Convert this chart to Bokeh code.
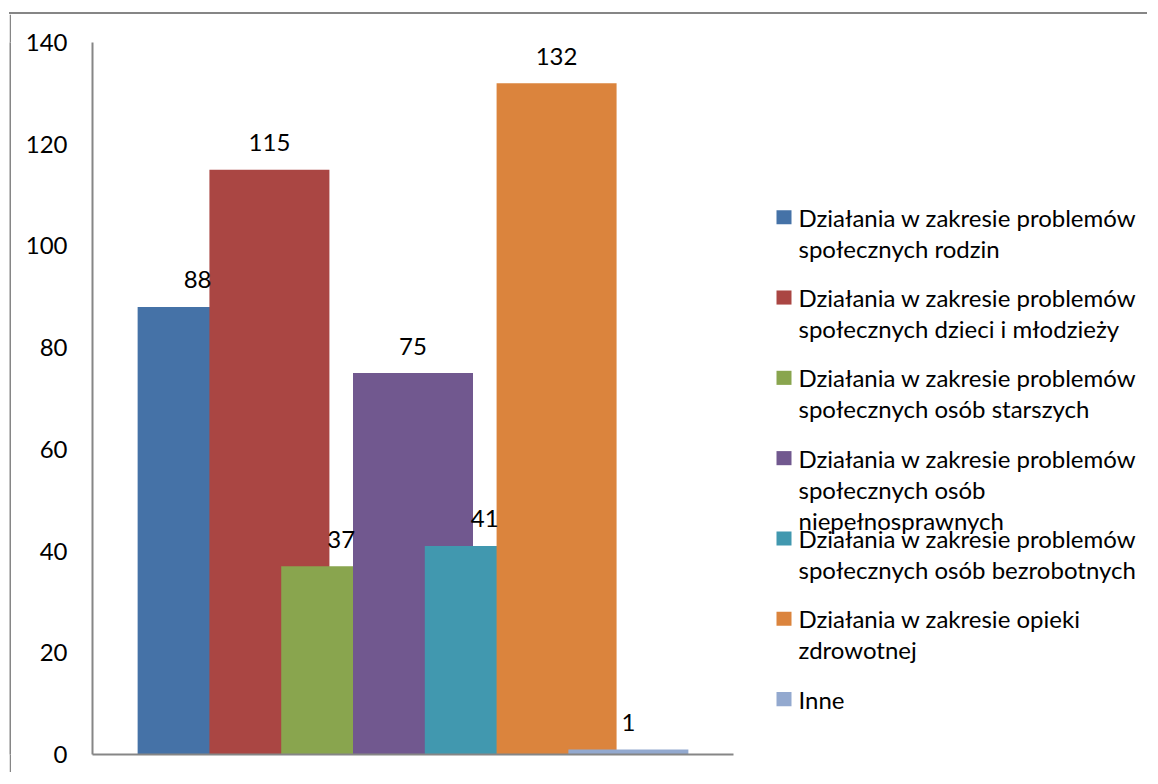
from bokeh.plotting import figure
from bokeh.models import Range1d, FixedTicker, ColumnDataSource, Spacer, Div
from bokeh.layouts import row, column
from bokeh.core.properties import value
from bokeh.embed import file_html
from bokeh.resources import INLINE

# ---- data ----
series_names = [
    "Działania w zakresie problemów\nspołecznych rodzin",
    "Działania w zakresie problemów\nspołecznych dzieci i młodzieży",
    "Działania w zakresie problemów\nspołecznych osób starszych",
    "Działania w zakresie problemów\nspołecznych osób\nniepełnosprawnych",
    "Działania w zakresie problemów\nspołecznych osób bezrobotnych",
    "Działania w zakresie opieki\nzdrowotnej",
    "Inne",
]
series_values = [88, 115, 37, 75, 41, 132, 1]
series_colors = ["#4572A7", "#AA4643", "#89A54E", "#71588F", "#4198AF", "#DB843D", "#93A9CF"]
y_ticks = [0, 20, 40, 60, 80, 100, 120, 140]

FONT = value("Lato")
FS = "24px"
TXT = "#000000"
AXIS = "#868686"

# ---- layout constants ----
W_MAIN, H = 740, 758
W_LEG = 396
STEP = 0.112      # offset between consecutive (overlapping) bars
BAR_W = 0.1872    # bar width in range units

n = len(series_values)
xs = [(i - (n - 1) / 2) * STEP for i in range(n)]
src = ColumnDataSource(dict(
    x=xs, top=series_values, color=series_colors,
    label=[str(v) for v in series_values],
))

p = figure(width=W_MAIN, height=H, x_range=Range1d(-0.5, 0.5),
           y_range=Range1d(0, 140), output_backend="svg", toolbar_location=None,
           min_border_left=81, min_border_right=18, min_border_top=28,
           min_border_bottom=18)
p.outline_line_color = None
p.xgrid.visible = False
p.ygrid.visible = False
p.background_fill_color = "white"
p.border_fill_color = "white"

p.vbar(x="x", top="top", bottom=0, width=BAR_W, fill_color="color",
       line_color=None, source=src)
p.text(x="x", y="top", text="label", source=src, text_align="center",
       text_baseline="middle", y_offset=-27, text_font=FONT,
       text_font_size=FS, text_color=TXT)

yax = p.yaxis[0]
yax.ticker = FixedTicker(ticks=y_ticks)
yax.axis_line_color = AXIS
yax.axis_line_width = 2
yax.major_tick_line_color = None
yax.minor_tick_line_color = None
yax.major_tick_out = 0
yax.major_tick_in = 0
yax.major_label_standoff = 25
yax.major_label_text_font = "Lato"
yax.major_label_text_font_size = FS
yax.major_label_text_color = TXT

xax = p.xaxis[0]
xax.ticker = FixedTicker(ticks=[])
xax.axis_line_color = AXIS
xax.axis_line_width = 2
xax.major_tick_line_color = None
xax.minor_tick_line_color = None
xax.major_label_text_font_size = "0px"

# ---- legend panel ----
leg = figure(width=W_LEG, height=H, x_range=Range1d(0, W_LEG), y_range=Range1d(H, 0),
             output_backend="svg", toolbar_location=None, min_border=0,
             x_axis_location=None, y_axis_location=None)
leg.outline_line_color = None
leg.xgrid.visible = False
leg.ygrid.visible = False

Y0, YSTEP, LINE = 186, 85.5, 33
sq_y = [Y0 + i * YSTEP for i in range(n)]
leg.rect(x=32.5, y=sq_y, width=15, height=15, fill_color=series_colors, line_color=None)

line_x, line_y, line_t = [], [], []
for i, name in enumerate(series_names):
    for j, t in enumerate(name.split("\n")):
        line_x.append(47)
        line_y.append(sq_y[i] + j * LINE)
        line_t.append(t)
leg.text(x=line_x, y=line_y, text=line_t, text_align="left", text_baseline="middle",
         text_font=FONT, text_font_size=FS, text_color=TXT)


# ---- chart-area border (top and left edges; the rest is cropped in the reference) ----
def strip(w, h):
    s = figure(width=w, height=h, output_backend="svg", toolbar_location=None,
               min_border=0, x_axis_location=None, y_axis_location=None)
    s.outline_line_color = None
    s.xgrid.visible = False
    s.ygrid.visible = False
    s.background_fill_color = AXIS
    s.border_fill_color = AXIS
    return s


top_strip = Div(text="", width=2 + W_MAIN + W_LEG, height=2,
                styles={"background-color": AXIS, "margin": "0", "padding": "0"})
left_strip = strip(2, H)

layout = column(
    Spacer(height=12),
    row(Spacer(width=9),
        column(top_strip, row(left_strip, p, leg))),
)

open("out.html", "w").write(file_html(layout, INLINE))
